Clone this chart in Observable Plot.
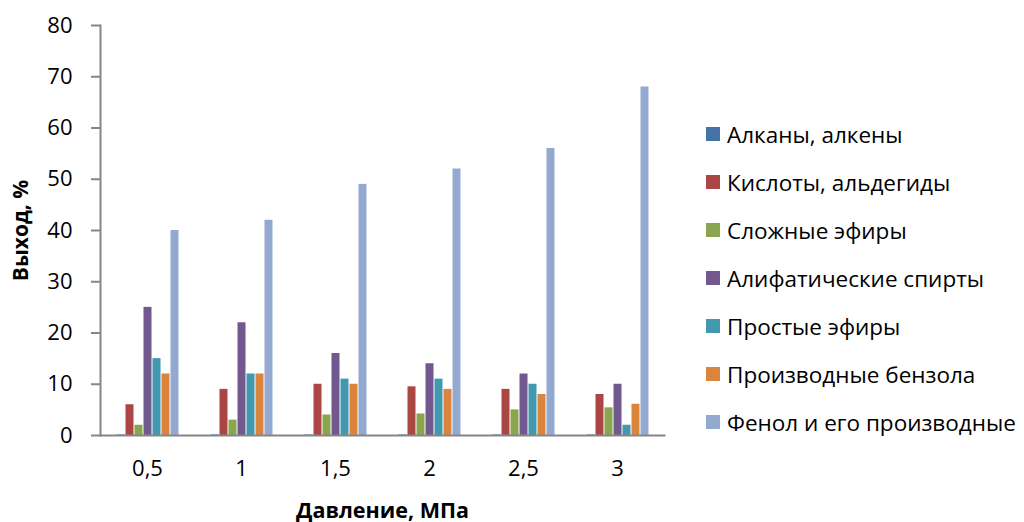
<!DOCTYPE html>
<html>
<head>
<meta charset="utf-8">
<script src="https://cdn.jsdelivr.net/npm/d3@7"></script>
<script src="https://cdn.jsdelivr.net/npm/@observablehq/plot@0.6"></script>
<style>
  html, body { margin: 0; padding: 0; background: #fff; }
  #chart { position: relative; width: 1024px; height: 522px; font-family: "Open Sans", sans-serif; }
  #legend { position: absolute; left: 706px; top: 110px; }
  .item { display: flex; align-items: center; height: 48px; font-size: 22.5px; color: #000; white-space: nowrap; }
  .sw { width: 14px; height: 14px; margin-right: 7px; flex: none; }
</style>
</head>
<body>
<div id="chart"></div>
<script>
// Pressure levels (MPa) and product groups
const pressures = ["0,5", "1", "1,5", "2", "2,5", "3"];
const series = [
  "Алканы, алкены",
  "Кислоты, альдегиды",
  "Сложные эфиры",
  "Алифатические спирты",
  "Простые эфиры",
  "Производные бензола",
  "Фенол и его производные"
];
const colors = ["#4572A7", "#AA4643", "#89A54E", "#71588F", "#4198AF", "#DB843D", "#93A9CF"];

// Yield, % — one array per product group, in pressure order
const alkanes   = [0.1, 0.1, 0.1, 0.1, 0.1, 0.1];
const acids     = [6, 9, 10, 9.5, 9, 8];
const esters    = [2, 3, 4, 4.2, 5, 5.4];
const alcohols  = [25, 22, 16, 14, 12, 10];
const ethers    = [15, 12, 11, 11, 10, 2];
const benzenes  = [12, 12, 10, 9, 8, 6.1];
const phenols   = [40, 42, 49, 52, 56, 68];
const yTicks = [0, 10, 20, 30, 40, 50, 60, 70, 80];

const values = [alkanes, acids, esters, alcohols, ethers, benzenes, phenols];
const data = [];
pressures.forEach((p, i) => series.forEach((s, j) => data.push({pressure: p, series: s, value: values[j][i]})));

const axisColor = "#868686";
const font = "Open Sans, sans-serif";

const chart = Plot.plot({
  width: 1024,
  height: 522,
  marginLeft: 99,
  marginRight: 360,
  marginTop: 25,
  marginBottom: 87,
  style: {fontFamily: font, fontSize: "22px", color: "#000", background: "#fff"},
  // facets touch each other; the gap between groups comes from the inner x padding
  fx: {domain: pressures, padding: 0, label: null},
  x: {domain: series, paddingInner: 0, paddingOuter: 1.5, axis: null},
  y: {domain: [0, 80], label: null},
  color: {domain: series, range: colors},
  marks: [
    Plot.barY(data, {fx: "pressure", x: "series", y: "value", fill: "series", insetLeft: 0.5, insetRight: 0.5}),
    // axis lines along the bottom and left edges of the plot area
    Plot.frame({anchor: "bottom", facet: "super", stroke: axisColor, strokeWidth: 2}),
    Plot.frame({anchor: "left", facet: "super", stroke: axisColor, strokeWidth: 2}),
    Plot.axisY({ticks: yTicks, tickSize: 9, tickPadding: 19, stroke: axisColor, strokeWidth: 2, fill: "#000", fontSize: 22, label: null}),
    Plot.axisFx({anchor: "bottom", tickSize: 0, tickPadding: 25, fontSize: 22, fill: "#000", label: null}),
    Plot.text(["Выход, %"], {facet: "super", frameAnchor: "left", textAnchor: "middle", dx: -79, rotate: -90, fontWeight: "bold", fontSize: 21, fill: "#000"}),
    Plot.text(["Давление, МПа"], {facet: "super", frameAnchor: "bottom", dy: 82, fontWeight: "bold", fontSize: 21.5, fill: "#000"})
  ]
});

const root = document.getElementById("chart");
root.appendChild(chart);

const legend = document.createElement("div");
legend.id = "legend";
series.forEach((s, j) => {
  const item = document.createElement("div");
  item.className = "item";
  const sw = document.createElement("span");
  sw.className = "sw";
  sw.style.background = colors[j];
  const label = document.createElement("span");
  label.textContent = s;
  item.appendChild(sw);
  item.appendChild(label);
  legend.appendChild(item);
});
root.appendChild(legend);
</script>
</body>
</html>
